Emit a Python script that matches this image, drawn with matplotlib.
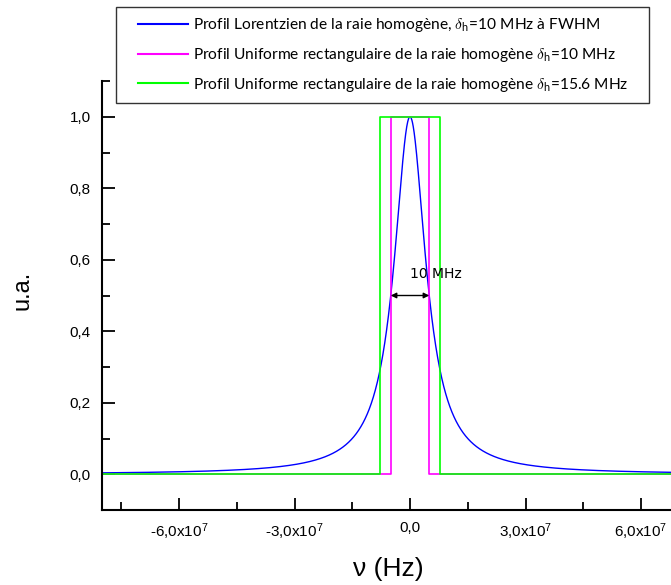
import numpy as np
import matplotlib
matplotlib.use("Agg")
import matplotlib.pyplot as plt
from matplotlib.ticker import MultipleLocator, FixedLocator
from matplotlib.legend_handler import HandlerBase
from matplotlib.lines import Line2D

# ---- data ----
fwhm_lorentz = 10e6          # Hz
width_rect_1 = 10e6          # Hz
width_rect_2 = 15.6e6        # Hz
peak_value = 1.0
nu = np.linspace(-8e7, 8e7, 4001)

labels = [
    "Profil Lorentzien de la raie homogène, $\\delta_{\\mathregular{h}}$=10 MHz à FWHM",
    "Profil Uniforme rectangulaire de la raie homogène $\\delta_{\\mathregular{h}}$=10 MHz",
    "Profil Uniforme rectangulaire de la raie homogène $\\delta_{\\mathregular{h}}$=15.6 MHz",
]
colors = ["#0000FF", "#FF00FF", "#00FF00"]
x_major = [-6e7, -3e7, 0.0, 3e7, 6e7]
x_tick_labels = ["-6,0x10$\\mathregular{^{7}}$", "-3,0x10$\\mathregular{^{7}}$", "0,0",
                 "3,0x10$\\mathregular{^{7}}$", "6,0x10$\\mathregular{^{7}}$"]
y_major = [0.0, 0.2, 0.4, 0.6, 0.8, 1.0]
y_tick_labels = ["0,0", "0,2", "0,4", "0,6", "0,8", "1,0"]
annot_text = "10 MHz"

plt.rcParams['mathtext.fontset'] = 'cm'

lorentz = peak_value / (1 + (2 * nu / fwhm_lorentz) ** 2)

def rect_xy(w):
    xs = [nu[0], -w / 2, -w / 2, w / 2, w / 2, nu[-1]]
    ys = [0, 0, peak_value, peak_value, 0, 0]
    return xs, ys


class ShiftedHandler(HandlerBase):
    def __init__(self, shift, **kw):
        super().__init__(**kw)
        self.shift = shift

    def create_artists(self, legend, orig_handle, xdescent, ydescent,
                       width, height, fontsize, trans):
        yc = (height - ydescent) / 2
        line = Line2D([-xdescent + self.shift, -xdescent + width], [yc, yc])
        self.update_prop(line, orig_handle, legend)
        line.set_marker("None")
        line.set_transform(trans)
        return [line]


fig = plt.figure(figsize=(6.71, 5.85), dpi=100)
ax = fig.add_axes([102 / 671, 75 / 585, 616 / 671, 429 / 585])

l1, = ax.plot(nu, lorentz, color=colors[0], lw=1.0, label=labels[0])
x2, y2 = rect_xy(width_rect_1)
l2, = ax.plot(x2, y2, color=colors[1], lw=1.2, label=labels[1])
x3, y3 = rect_xy(width_rect_2)
l3, = ax.plot(x3, y3, color=colors[2], lw=1.2, label=labels[2])

ax.set_xlim(-8e7, 8e7)
ax.set_ylim(-0.1, 1.1)

for s in ["top", "right"]:
    ax.spines[s].set_visible(False)
for s in ["left", "bottom"]:
    ax.spines[s].set_linewidth(1.5)

ax.xaxis.set_major_locator(FixedLocator(x_major))
ax.set_xticklabels(x_tick_labels)
ax.xaxis.set_minor_locator(MultipleLocator(1.5e7))
ax.yaxis.set_major_locator(FixedLocator(y_major))
ax.set_yticklabels(y_tick_labels)
ax.yaxis.set_minor_locator(MultipleLocator(0.1))
ax.tick_params(which="major", direction="in", length=9, width=1.3)
ax.tick_params(which="minor", direction="in", length=6, width=1.3)
ax.tick_params(axis="both", which="major", labelsize=11, pad=8)
for t in ax.get_xticklabels() + ax.get_yticklabels():
    t.set_fontfamily("Liberation Sans")

# annotation
ax.annotate("", xy=(-fwhm_lorentz / 2, 0.5), xytext=(fwhm_lorentz / 2, 0.5),
            arrowprops=dict(arrowstyle="<|-|>", color="black", lw=1.0,
                            mutation_scale=8, shrinkA=0, shrinkB=0))
ax.text(0, 0.56, annot_text, fontsize=10, family="DejaVu Sans",
        ha="left", va="center")

fig.text(388.5 / 671, 1 - 569 / 585, "ν (Hz)", fontsize=19,
         family="Liberation Sans", ha="center", va="center")
fig.text(22 / 671, 1 - 290 / 585, "u.a.", fontsize=17, rotation=90,
         family="Liberation Sans", ha="center", va="center")

fs = 11.2
px = 72 / 100  # points per pixel
bpad = 0.6
tpad = 0.3
hl_px = 193 - 116 - bpad * fs / px - tpad * fs / px
shift_px = 138 - 116 - bpad * fs / px
handler = ShiftedHandler(shift_px * px)
leg = fig.legend(handles=[l1, l2, l3], loc="upper left",
                 bbox_to_anchor=(116 / 671, 1 - 7 / 585, (649 - 116) / 671, 0),
                 mode="expand",
                 prop={"family": ["Lato", "DejaVu Sans"], "size": fs},
                 frameon=True, fancybox=False, edgecolor="black",
                 handlelength=hl_px * px / fs, handletextpad=tpad,
                 borderpad=bpad, labelspacing=0.75, borderaxespad=0,
                 handler_map={Line2D: handler})
leg.get_frame().set_linewidth(1.0)
for h in leg.get_lines():
    h.set_linewidth(1.5)

fig.savefig("out.png", dpi=100)
